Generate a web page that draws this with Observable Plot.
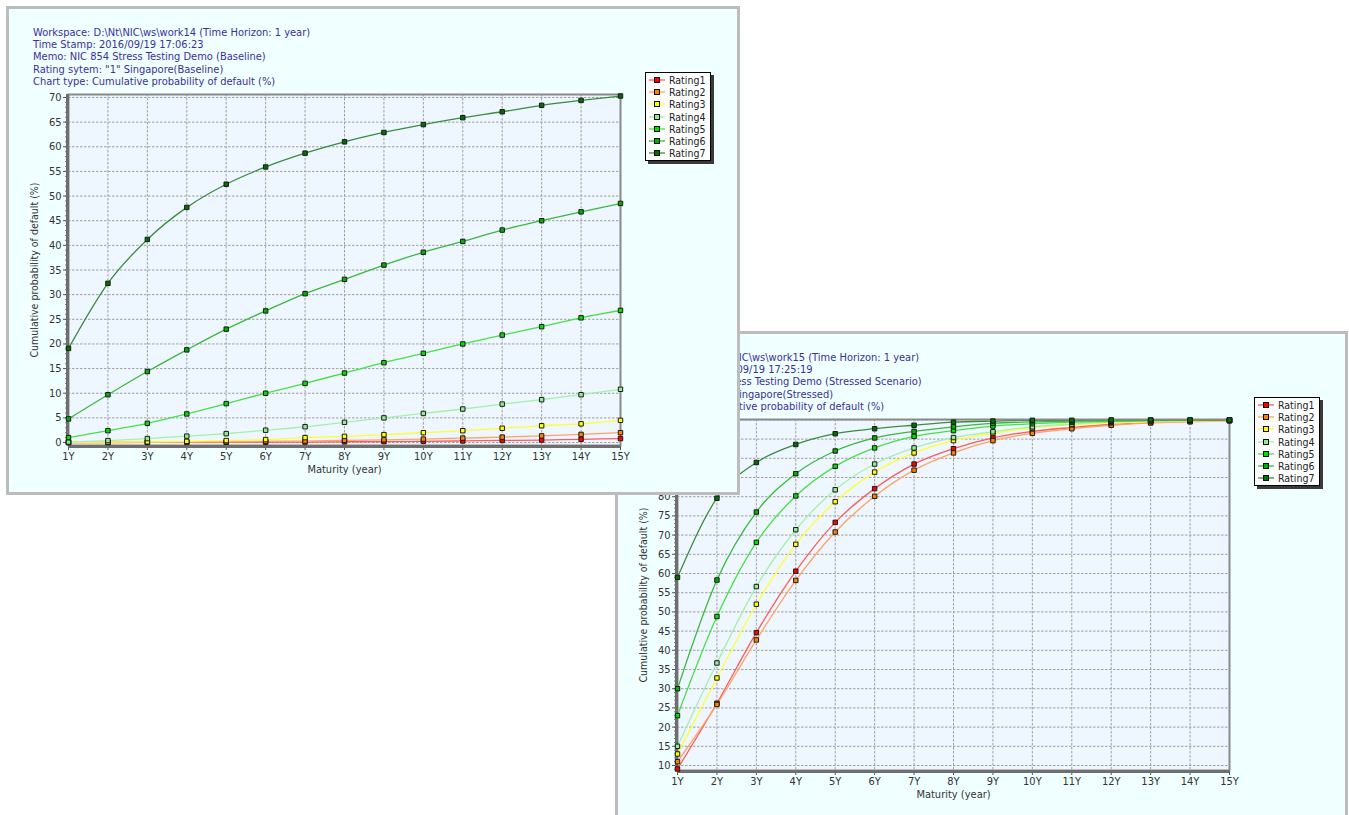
<!DOCTYPE html>
<html><head><meta charset="utf-8">
<script src="https://cdn.jsdelivr.net/npm/d3@7"></script>
<script src="https://cdn.jsdelivr.net/npm/@observablehq/plot@0.6"></script>
<style>
html,body{margin:0;padding:0;background:#fff;width:1349px;height:815px;overflow:hidden;}
body{position:relative;font-family:"DejaVu Sans Condensed","DejaVu Sans",sans-serif;}
.win{position:absolute;box-sizing:border-box;border:3px solid #bcbcbc;background:#f0ffff;overflow:hidden;}
.hdr{position:absolute;left:24px;top:18px;font-size:11px;line-height:12.2px;color:#3b2f9e;white-space:pre;z-index:3;}
.legend{position:absolute;background:#fff;border:1px solid #000;box-shadow:3px 3px 0 #3a3a3a;padding:1px 5px 1px 3px;font-size:10.5px;line-height:12.2px;color:#222;z-index:3;}
.legend .row{display:flex;align-items:center;height:12.2px;}
.legend svg{margin-right:4px;}
</style>
</head><body>
<script>
// ---------- data ----------
const maturityYears = [1,2,3,4,5,6,7,8,9,10,11,12,13,14,15];
const maturityLabels = ["1Y","2Y","3Y","4Y","5Y","6Y","7Y","8Y","9Y","10Y","11Y","12Y","13Y","14Y","15Y"];
const ratings = ["Rating1","Rating2","Rating3","Rating4","Rating5","Rating6","Rating7"];

const baselineRating1 = [0.0,0.01,0.02,0.03,0.05,0.07,0.1,0.15,0.2,0.25,0.33,0.42,0.5,0.65,0.8];
const baselineRating2 = [0.01,0.03,0.06,0.1,0.15,0.22,0.3,0.45,0.55,0.7,0.9,1.1,1.35,1.65,2.0];
const baselineRating3 = [0.03,0.08,0.15,0.25,0.4,0.6,1.0,1.25,1.6,2.0,2.4,2.9,3.4,3.8,4.5];
const baselineRating4 = [0.1,0.4,0.8,1.3,1.8,2.5,3.2,4.1,5.0,5.9,6.8,7.8,8.7,9.7,10.8];
const baselineRating5 = [1.0,2.4,3.9,5.8,7.9,10.0,12.0,14.1,16.2,18.1,20.0,21.8,23.5,25.3,26.8];
const baselineRating6 = [4.8,9.7,14.4,18.8,23.0,26.7,30.2,33.1,36.0,38.6,40.8,43.1,45.0,46.8,48.5];
const baselineRating7 = [19.1,32.3,41.2,47.7,52.4,55.9,58.7,61.0,62.9,64.5,65.9,67.1,68.4,69.4,70.3];

const stressedRating1 = [9.1,26.2,44.6,60.6,73.3,82.1,88.5,92.5,95.3,97.0,98.0,98.8,99.3,99.6,99.8];
const stressedRating2 = [11.0,25.9,42.7,58.2,70.8,80.1,86.9,91.4,94.6,96.5,97.7,98.6,99.2,99.5,99.8];
const stressedRating3 = [13.0,32.8,52.0,67.6,78.7,86.4,91.4,94.6,96.5,97.9,98.7,99.2,99.5,99.7,99.8];
const stressedRating4 = [15.0,36.7,56.6,71.4,81.8,88.5,92.7,95.4,96.9,98.2,98.9,99.4,99.7,99.8,99.9];
const stressedRating5 = [23.0,48.8,68.1,80.2,87.9,92.7,95.7,97.2,98.4,99.0,99.4,99.6,99.8,99.9,100];
const stressedRating6 = [30.0,58.3,76.0,86.0,91.9,95.3,97.0,98.2,99.1,99.5,99.7,99.8,99.9,99.9,100];
const stressedRating7 = [59.0,79.6,88.9,93.6,96.4,97.7,98.6,99.4,99.7,99.9,99.9,100,100,100,100];

const baselineTicksY = [0,5,10,15,20,25,30,35,40,45,50,55,60,65,70];
const stressedTicksY = [10,15,20,25,30,35,40,45,50,55,60,65,70,75,80,85,90,95,100];

const baselineHeader = [
  "Workspace: D:\\Nt\\NIC\\ws\\work14 (Time Horizon: 1 year)",
  "Time Stamp: 2016/09/19 17:06:23",
  "Memo: NIC 854 Stress Testing Demo (Baseline)",
  "Rating sytem: \"1\" Singapore(Baseline)",
  "Chart type: Cumulative probability of default (%)"
];
const stressedHeader = [
  "Workspace: D:\\Nt\\NIC\\ws\\work15 (Time Horizon: 1 year)",
  "Time Stamp: 2016/09/19 17:25:19",
  "Memo: NIC 854 Stress Testing Demo (Stressed Scenario)",
  "Rating sytem: \"1\" Singapore(Stressed)",
  "Chart type: Cumulative probability of default (%)"
];
const xLabel = "Maturity (year)";
const yLabel = "Cumulative probability of default (%)";

const lineColors = ["#ff5a5a","#ffa264","#ffff30","#a6f0a6","#46e046","#3cb83c","#3c8c3c"];
const markerColors = ["#ff0000","#ff8000","#ffff00","#90ee90","#00e000","#00b000","#007000"];

// ---------- drawing ----------
function makeWindow(left, top, width, height, z, header) {
  const w = document.createElement("div");
  w.className = "win";
  Object.assign(w.style, {left: left + "px", top: top + "px", width: width + "px", height: height + "px", zIndex: z});
  const h = document.createElement("div");
  h.className = "hdr";
  h.textContent = header.join("\n");
  w.appendChild(h);
  document.body.appendChild(w);
  return w;
}

function makeLegend(win) {
  const lg = document.createElement("div");
  lg.className = "legend";
  Object.assign(lg.style, {left: "636px", top: "63px"});
  ratings.forEach((r, i) => {
    const row = document.createElement("div");
    row.className = "row";
    row.innerHTML = `<svg width="16" height="8"><line x1="0" x2="16" y1="4" y2="4" stroke="${lineColors[i]}" stroke-width="1.3"/><rect x="5.5" y="1.5" width="5" height="5" fill="${markerColors[i]}" stroke="#111" stroke-width="1"/></svg><span>${r}</span>`;
    lg.appendChild(row);
  });
  win.appendChild(lg);
}

function drawChart(win, seriesList, yDomain, yTicks) {
  const series = ratings.map((r, i) => maturityYears.map((m, j) => ({m, v: seriesList[i][j]})));
  const minorX = d3.range(1, 15.001, 0.25);
  const minorY = d3.range(Math.ceil(yDomain[0]), yDomain[1] + 0.001, 1);
  const grid = {stroke: "#a0a0a0", strokeOpacity: 1, strokeDasharray: "2.5,1.5"};
  const marks = [
    Plot.frame({fill: "#eef6ff", stroke: null}),
    Plot.gridX(maturityYears, grid),
    Plot.gridY(yTicks, grid),
    Plot.axisX(minorX, {tickSize: 3, tickFormat: null, text: null, label: null, stroke: "#777"}),
    Plot.axisY(minorY, {tickSize: 3, tickFormat: null, text: null, label: null, stroke: "#777"}),
    Plot.axisX(maturityYears, {tickSize: 5, tickPadding: 2, tickFormat: d => maturityLabels[d - 1], label: null, stroke: "#555", fill: "#333"}),
    Plot.axisY(yTicks, {tickSize: 5, tickPadding: 2, label: null, stroke: "#555", fill: "#333"}),
    Plot.text([xLabel], {frameAnchor: "bottom", dy: 27, fill: "#333", fontSize: 11}),
    Plot.text([yLabel], {frameAnchor: "left", textAnchor: "middle", rotate: -90, dx: -34, fill: "#333", fontSize: 10.5}),
    ...series.map((d, i) => Plot.line(d, {x: "m", y: "v", stroke: lineColors[i], strokeWidth: 1.3, curve: "monotone-x", clip: true})),
    Plot.frame({stroke: "#8a8a8a", strokeWidth: 2}),
    Plot.ruleX([1], {stroke: "#6e6e6e", strokeWidth: 3, dx: -1}),
    Plot.ruleY([yDomain[0]], {stroke: "#6e6e6e", strokeWidth: 3, dy: 1}),
    ...series.map((d, i) => Plot.dot(d, {x: "m", y: "v", symbol: "square", r: 2.5, fill: markerColors[i], stroke: "#1a1a1a", strokeWidth: 1}))
  ];
  const svg = Plot.plot({
    width: 728, height: 483,
    marginLeft: 59, marginRight: 117, marginTop: 85, marginBottom: 47,
    x: {domain: [1, 15]},
    y: {domain: yDomain},
    style: {background: "transparent", fontFamily: '"DejaVu Sans Condensed","DejaVu Sans",sans-serif', fontSize: "11px", color: "#333", overflow: "visible", maxWidth: "none"},
    marks
  });
  svg.style.position = "absolute";
  svg.style.left = "0px";
  svg.style.top = "0px";
  win.appendChild(svg);
  makeLegend(win);
}

const stressedWin = makeWindow(615, 331, 733, 489, 1, stressedHeader);
drawChart(stressedWin,
  [stressedRating1, stressedRating2, stressedRating3, stressedRating4, stressedRating5, stressedRating6, stressedRating7],
  [8.7, 100.1], stressedTicksY);

const baselineWin = makeWindow(6, 6, 734, 489, 2, baselineHeader);
drawChart(baselineWin,
  [baselineRating1, baselineRating2, baselineRating3, baselineRating4, baselineRating5, baselineRating6, baselineRating7],
  [-0.6, 70.6], baselineTicksY);
</script>
</body></html>
